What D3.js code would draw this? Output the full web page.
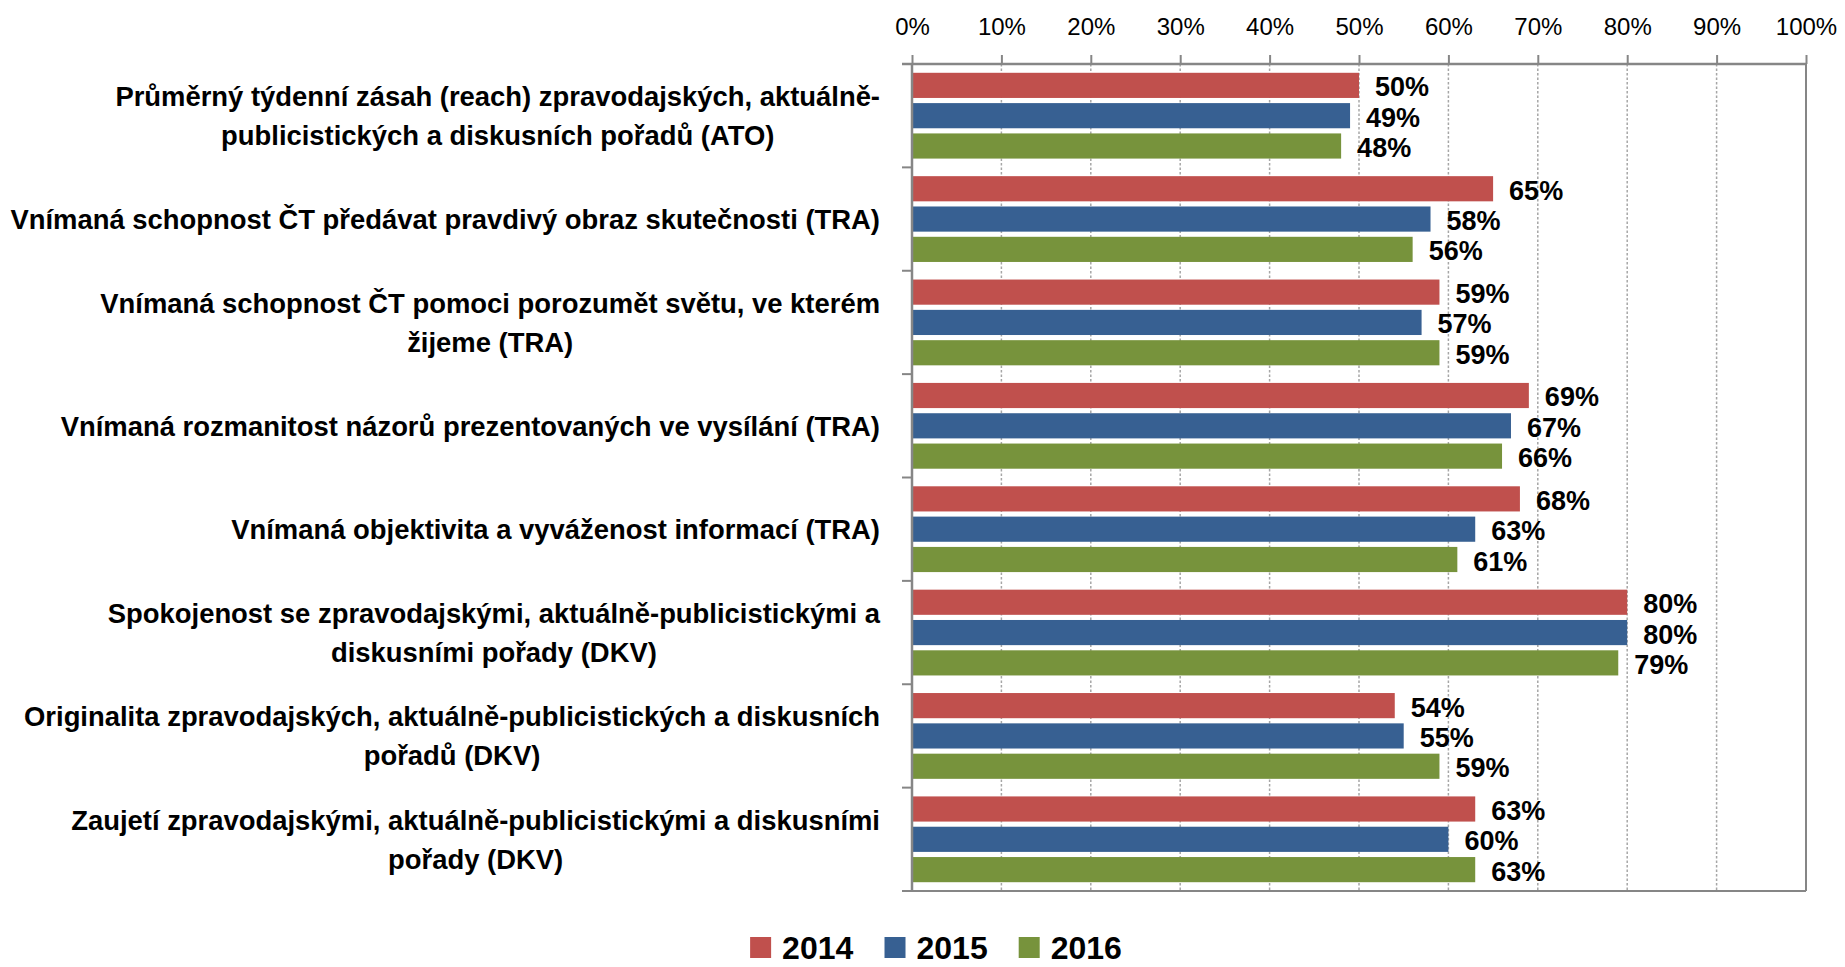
<!DOCTYPE html>
<html>
<head>
<meta charset="utf-8">
<script src="https://cdn.jsdelivr.net/npm/d3@7"></script>
<style>
  html, body { margin: 0; padding: 0; background: #fff; }
  svg { display: block; }
  text { font-family: "Liberation Sans", Arial, sans-serif; fill: #000; }
</style>
</head>
<body>
<svg id="chart" width="1845" height="967"></svg>
<script>
const categories = [
  "Průměrný týdenní zásah (reach) zpravodajských, aktuálně-\npublicistických a diskusních pořadů (ATO)",
  "Vnímaná schopnost ČT předávat pravdivý obraz skutečnosti (TRA)",
  "Vnímaná schopnost ČT pomoci porozumět světu, ve kterém\nžijeme (TRA)",
  "Vnímaná rozmanitost názorů prezentovaných ve vysílání (TRA)",
  "Vnímaná objektivita a vyváženost informací (TRA)",
  "Spokojenost se zpravodajskými, aktuálně-publicistickými a\ndiskusními pořady (DKV)",
  "Originalita zpravodajských, aktuálně-publicistických a diskusních\npořadů (DKV)",
  "Zaujetí zpravodajskými, aktuálně-publicistickými a diskusními\npořady (DKV)"
];
const years = ["2014", "2015", "2016"];
const values2014 = [0.50, 0.65, 0.59, 0.69, 0.68, 0.80, 0.54, 0.63];
const values2015 = [0.49, 0.58, 0.57, 0.67, 0.63, 0.80, 0.55, 0.60];
const values2016 = [0.48, 0.56, 0.59, 0.66, 0.61, 0.79, 0.59, 0.63];
const colors = ["#C0504D", "#376092", "#77933C"];
const tickValues = [0, 0.1, 0.2, 0.3, 0.4, 0.5, 0.6, 0.7, 0.8, 0.9, 1.0];

const series = [values2014, values2015, values2016];
const svg = d3.select("#chart");

const margin = { left: 912, top: 64, right: 39, bottom: 76 };
const W = 1845 - margin.left - margin.right;
const H = 967 - margin.top - margin.bottom;

const x = d3.scaleLinear().domain([0, 1]).range([0, W]);
const y0 = d3.scaleBand().domain(d3.range(categories.length)).range([0, H]).paddingInner(0).paddingOuter(0);
const y1 = d3.scaleBand().domain(d3.range(years.length)).range([0, y0.bandwidth()]).paddingInner(0.17).paddingOuter(0.29);

const g = svg.append("g").attr("transform", `translate(${margin.left},${margin.top})`);
const axisColor = "#868686";

// gridlines
g.append("g").selectAll("line").data(tickValues.filter(t => t > 0 && t < 1)).join("line")
  .attr("x1", d => x(d)).attr("x2", d => x(d)).attr("y1", 0).attr("y2", H)
  .attr("stroke", "#a6a6a6").attr("stroke-width", 1.5).attr("stroke-dasharray", "2.5,2");

// plot border (right & bottom)
g.append("line").attr("x1", W).attr("x2", W).attr("y1", 0).attr("y2", H).attr("stroke", axisColor).attr("stroke-width", 2);
g.append("line").attr("x1", 0).attr("x2", W).attr("y1", H).attr("y2", H).attr("stroke", axisColor).attr("stroke-width", 2);

// bars
const groups = g.append("g").selectAll("g").data(categories.map((c, i) => i)).join("g")
  .attr("transform", i => `translate(0,${y0(i)})`);

groups.selectAll("rect").data(i => series.map((s, k) => ({ k, v: s[i] }))).join("rect")
  .attr("x", 0)
  .attr("y", d => y1(d.k))
  .attr("width", d => x(d.v))
  .attr("height", y1.bandwidth())
  .attr("fill", d => colors[d.k]);

groups.selectAll("text.val").data(i => series.map((s, k) => ({ k, v: s[i] }))).join("text")
  .attr("class", "val")
  .attr("x", d => x(d.v) + 16)
  .attr("y", d => y1(d.k) + y1.bandwidth() / 2 + 11)
  .attr("font-size", 27)
  .attr("font-weight", "bold")
  .text(d => d3.format(".0%")(d.v));

// top axis
const xAxis = d3.axisTop(x).tickValues(tickValues).tickFormat(d3.format(".0%")).tickSize(9).tickPadding(20);
const ax = g.append("g").call(xAxis);
ax.select(".domain").remove();
ax.selectAll(".tick line").attr("stroke", axisColor).attr("stroke-width", 2);
ax.selectAll(".tick text").attr("font-size", 24).attr("font-family", "Liberation Sans, Arial, sans-serif").attr("fill", "#000");
g.append("line").attr("x1", -10).attr("x2", W).attr("y1", 0).attr("y2", 0).attr("stroke", axisColor).attr("stroke-width", 2.5);

// left axis
const boundaries = d3.range(categories.length + 1).map(i => i * y0.step());
g.append("g").selectAll("line").data(boundaries).join("line")
  .attr("x1", -10).attr("x2", 0).attr("y1", d => d).attr("y2", d => d)
  .attr("stroke", axisColor).attr("stroke-width", 2);
g.append("line").attr("x1", 0).attr("x2", 0).attr("y1", 0).attr("y2", H).attr("stroke", axisColor).attr("stroke-width", 2.5);

// category labels
const labelRight = -32;
const lineGap = 39;
const probe = svg.append("text").attr("font-weight", "bold").attr("font-size", 24).text(categories[1]);
const probeW = probe.node().getComputedTextLength();
probe.remove();
const catFs = 24 * 870 / probeW;

const labels = g.append("g").selectAll("g").data(categories).join("g")
  .attr("transform", (c, i) => `translate(0,${y0(i) + y0.bandwidth() / 2})`);
labels.each(function (c) {
  const lines = c.split("\n");
  const sel = d3.select(this);
  const texts = sel.selectAll("text").data(lines).join("text")
    .attr("font-size", catFs)
    .attr("font-weight", "bold")
    .attr("text-anchor", "middle")
    .attr("y", (l, j) => (j - (lines.length - 1) / 2) * lineGap + catFs * 0.36)
    .text(l => l);
  let maxW = 0;
  texts.each(function () { maxW = Math.max(maxW, this.getComputedTextLength()); });
  texts.attr("x", labelRight - maxW / 2);
});

// legend
const legend = svg.append("g");
const items = legend.selectAll("g").data(years).join("g");
items.append("rect").attr("width", 21).attr("height", 21).attr("y", -22).attr("fill", (d, i) => colors[i]);
items.append("text").attr("x", 32).attr("y", 0).attr("font-size", 32).attr("font-weight", "bold").text(d => d);
let cx = 0;
const itemGap = 31;
items.each(function () {
  const w = this.getBBox().width;
  d3.select(this).attr("transform", `translate(${cx},0)`);
  cx += w + itemGap;
});
const totalW = cx - itemGap;
legend.attr("transform", `translate(${936 - totalW / 2},959)`);
</script>
</body>
</html>
